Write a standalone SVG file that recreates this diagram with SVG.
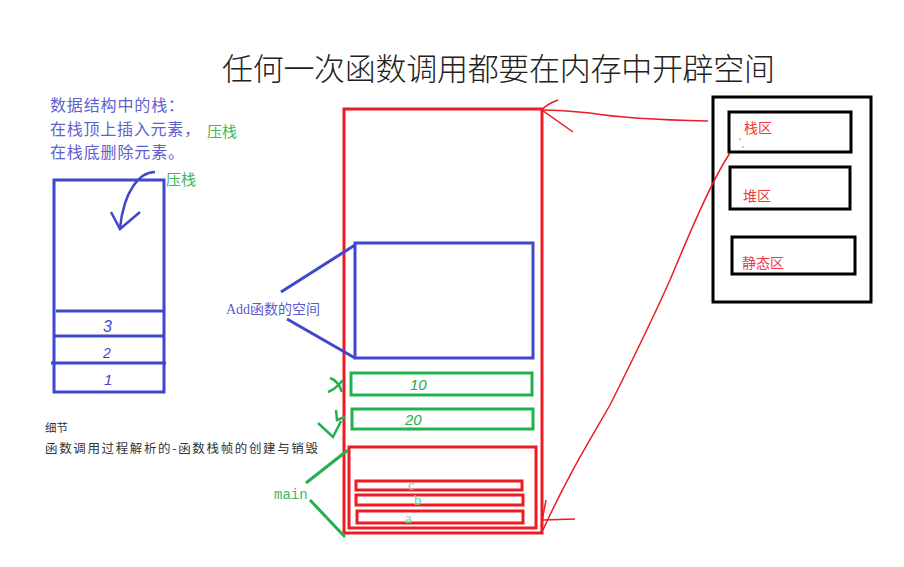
<svg xmlns="http://www.w3.org/2000/svg" width="904" height="567" viewBox="0 0 904 567">
<style>
.cjk{font-family:"Noto Sans CJK SC","Liberation Sans",sans-serif;}
.serif{font-family:"Liberation Serif","Noto Sans CJK SC",serif;}
.mono{font-family:"Liberation Mono",monospace;}
.blue{fill:none;stroke:#3f48cc;stroke-width:3;}
.red{fill:none;stroke:#ed1c24;stroke-width:3;}
.redt{fill:none;stroke:#ed1c24;stroke-width:1.5;}
.green{fill:none;stroke:#22b14c;stroke-width:3;}
.blk{fill:none;stroke:#000;stroke-width:3;}
.tb{fill:#6060d0;font-size:16px;}
.tg{fill:#3cb85c;font-size:15px;}
.tr{fill:#ed3a40;font-size:14px;}
.lbl{fill:#7ccf94;font-size:15px;}
.hand{font-family:"Liberation Sans",sans-serif;font-style:italic;}
</style>
<rect width="904" height="567" fill="#fff"/>
<text class="cjk" x="222" y="80" font-size="31" fill="#222" font-weight="300" textLength="553">任何一次函数调用都要在内存中开辟空间</text>

<g id="stack-desc">
<text class="tb cjk" x="50" y="111" textLength="134">数据结构中的栈：</text>
<text class="tb cjk" x="50" y="135" textLength="150">在栈顶上插入元素，</text>
<text class="tg cjk" x="207" y="137">压栈</text>
<text class="tb cjk" x="50" y="158" textLength="134">在栈底删除元素。</text>
</g>

<g id="left-stack">
<rect class="blue" x="54" y="180" width="110" height="212"/>
<line class="blue" x1="56" y1="311" x2="165" y2="311"/>
<line class="blue" x1="54" y1="336" x2="164" y2="336"/>
<line class="blue" x1="51" y1="363" x2="166" y2="363"/>
<text class="hand" x="103" y="332" font-size="16" fill="#3f48cc">3</text>
<text class="hand" x="103" y="358" font-size="14" fill="#3f48cc">2</text>
<text class="hand" x="104" y="385" font-size="15" fill="#3f48cc">1</text>
<path d="M155 172 C140 172 124 190 120 228" fill="none" stroke="#3f48cc" stroke-width="2.5"/>
<path d="M111 212 L120 229 L140 212" fill="none" stroke="#3f48cc" stroke-width="2.5"/>
<text class="tg cjk" x="166" y="185">压栈</text>
</g>

<g id="note">
<text class="cjk" x="45" y="432" font-size="11.5" fill="#333">细节</text>
<text class="cjk" x="45" y="453" font-size="12.5" fill="#333" textLength="273">函数调用过程解析的-函数栈帧的创建与销毁</text>
</g>

<g id="memory-stack">
<rect class="red" x="344" y="109" width="198" height="424"/>
</g>

<g id="add-frame">
<rect class="blue" x="355" y="243" width="178" height="115"/>
<text class="serif" x="226" y="314" font-size="14" fill="#5b5bd0">Add函数的空间</text>
</g>

<g id="var-x">
<rect class="green" x="351" y="373" width="181" height="22"/>
<text class="hand" x="410" y="390" font-size="15" fill="#22b14c">10</text>
<path d="M330 378 C336 380 340 386 342 392 M343 380 C338 386 334 390 328 392" fill="none" stroke="#22b14c" stroke-width="2.5"/>
</g>
<g id="var-y">
<rect class="green" x="352" y="409" width="181" height="20"/>
<text class="hand" x="405" y="425" font-size="15" fill="#22b14c">20</text>
<path d="M318 423 L333 437 L341 421 M336 410 L337 420 L345 417" fill="none" stroke="#22b14c" stroke-width="2.5"/>
</g>

<g id="main-frame">
<rect class="red" x="349" y="447" width="187" height="81"/>
<rect class="red" x="356" y="481" width="166" height="9"/>
<rect class="red" x="356" y="495" width="167" height="10"/>
<rect class="red" x="357" y="511" width="166" height="12"/>
<text class="serif lbl" x="408" y="490">c</text>
<text class="serif lbl" x="414" y="505">b</text>
<text class="serif lbl" x="405" y="523">a</text>
<text class="mono" x="274" y="499" font-size="14" fill="#3cb85c">main</text>
</g>

<g id="memory-regions">
<rect class="blk" x="713" y="97" width="158" height="205"/>
<rect class="blk" x="729" y="112" width="122" height="40"/>
<rect class="blk" x="730" y="167" width="120" height="42"/>
<rect class="blk" x="732" y="237" width="123" height="37"/>
<text class="tr cjk" x="744" y="133">栈区</text>
<text class="tr cjk" x="743" y="201">堆区</text>
<text class="tr cjk" x="742" y="268">静态区</text>
<circle cx="740" cy="139" r="0.7" fill="#c44"/>
<circle cx="743" cy="147" r="0.7" fill="#c44"/>
</g>

<g id="connectors">
<line x1="281" y1="292" x2="355" y2="245" stroke="#3f48cc" stroke-width="3"/>
<line x1="287" y1="319" x2="355" y2="358" stroke="#3f48cc" stroke-width="3"/>
<line x1="306" y1="483" x2="348" y2="450" stroke="#22b14c" stroke-width="3"/>
<line x1="310" y1="500" x2="345" y2="537" stroke="#22b14c" stroke-width="3"/>
<path class="redt" d="M708 121 C660 120 620 118 590 113 C570 111 555 110 542 110"/>
<path class="redt" d="M558 100 C550 103 545 106 542 110 L573 132"/>
<path class="redt" d="M730 153 C712 180 690 232 670 280 C650 325 630 365 610 405 C590 440 568 475 543 530"/>
<path class="redt" d="M543 520 L575 519 M541 527 L546 500"/>
</g>
</svg>
